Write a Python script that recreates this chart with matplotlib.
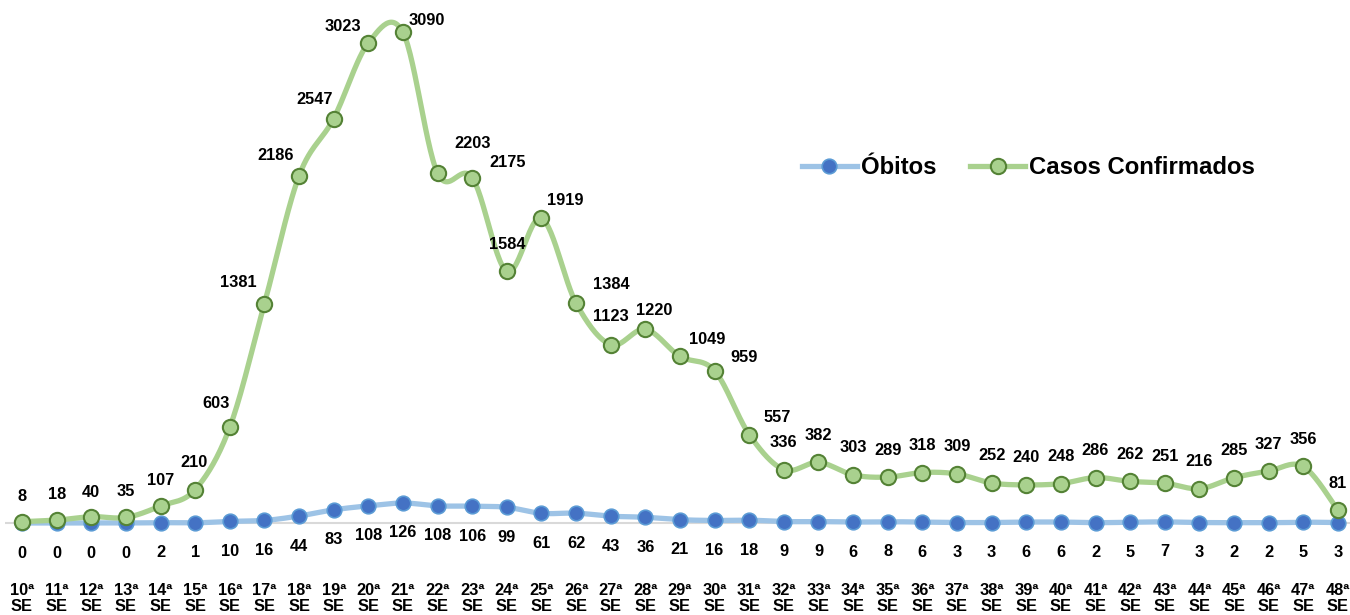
import numpy as np
import matplotlib
matplotlib.use("Agg")
import matplotlib.pyplot as plt
from matplotlib.lines import Line2D

plt.rcParams['font.family'] = ['Liberation Sans', 'DejaVu Sans']

# ---------------- data ----------------
weeks = list(range(10, 49))
week_labels = [f"{w}ª\nSE" for w in weeks]
obitos = [0, 0, 0, 0, 2, 1, 10, 16, 44, 83, 108, 126, 108, 106, 99, 61, 62, 43, 36,
          21, 16, 18, 9, 9, 6, 8, 6, 3, 3, 6, 6, 2, 5, 7, 3, 2, 2, 5, 3]
casos = [8, 18, 40, 35, 107, 210, 603, 1381, 2186, 2547, 3023, 3090, 2203, 2175, 1584,
         1919, 1384, 1123, 1220, 1049, 959, 557, 336, 382, 303, 289, 318, 309, 252,
         240, 248, 286, 262, 251, 216, 285, 327, 356, 81]

# label offsets (pixels) for the confirmed-case labels (style only)
casos_label_dx = [0, 0, 0, 0, 0, -1, -14, -26, -23, -19, -25, 24, 35, 35, 0, 24, 35,
                  0, 9, 27, 29, 28] + [0] * 17
casos_label_dy = [25, 26, 24, 26, 26, 27, 24, 21, 20, 19, 16, 12, 30, 15, 27, 18, 19,
                  28, 19, 17, 13, 17] + [27] * 17

# ---------------- helpers ----------------
def smooth(xs, ys, n=30):
    xs = np.asarray(xs, float)
    ys = np.asarray(ys, float)
    P = np.column_stack([xs, ys])
    out = []
    m = len(P)
    for i in range(m - 1):
        p0 = P[i - 1] if i > 0 else P[i]
        p1 = P[i]
        p2 = P[i + 1]
        p3 = P[i + 2] if i + 2 < m else P[i + 1]
        c1 = p1 + (p2 - p0) / 6.0
        c2 = p2 - (p3 - p1) / 6.0
        t = np.linspace(0, 1, n)[:, None]
        seg = ((1 - t) ** 3) * p1 + 3 * ((1 - t) ** 2) * t * c1 + 3 * (1 - t) * t ** 2 * c2 + t ** 3 * p2
        if i > 0:
            seg = seg[1:]
        out.append(seg)
    out = np.vstack(out)
    return out[:, 0], out[:, 1]

# ---------------- figure ----------------
W, H = 1350, 615
fig = plt.figure(figsize=(W / 100, H / 100), dpi=100)

step = 34.63
x0_px = 22 - 0.5 * step
ax_w_px = 39 * step
top_px, bot_px = 0, 540
y0_px = 523.0
scale = (523 - 32.3) / 3090.0
ax = fig.add_axes([x0_px / W, (H - bot_px) / H, ax_w_px / W, (bot_px - top_px) / H])
ax.set_xlim(-0.5, 38.5)
ax.set_ylim(-(bot_px - y0_px) / scale, (y0_px - top_px) / scale)
for s in ax.spines.values():
    s.set_visible(False)
ax.set_yticks([])

x = np.arange(len(weeks))

ax.axhline(0, color='#D9D9D9', lw=1.5, zorder=1)

blue_line = '#9DC3E6'
blue_mark = '#4472C4'
green_line = '#A9D18E'
green_edge = '#548235'

sx, sy = smooth(x, obitos)
ax.plot(sx, sy, color=blue_line, lw=3.8, solid_capstyle='round', zorder=2)
ax.plot(x, obitos, ls='none', marker='o', ms=10.5, mfc=blue_mark, mec='#5B9BD5',
        mew=1.2, zorder=3)

sx, sy = smooth(x, casos)
ax.plot(sx, sy, color=green_line, lw=3.8, solid_capstyle='round', zorder=4)
ax.plot(x, casos, ls='none', marker='o', ms=11, mfc=green_line, mec=green_edge,
        mew=1.5, zorder=5)

fs = 11.8
for i, v in enumerate(casos):
    ax.annotate(str(v), (x[i], v), xytext=(casos_label_dx[i], casos_label_dy[i]),
                textcoords='offset pixels', ha='center', va='center',
                fontsize=fs, fontweight='bold', color='#000000', zorder=6,
                annotation_clip=False)
for i, v in enumerate(obitos):
    ax.annotate(str(v), (x[i], v), xytext=(0, -30),
                textcoords='offset pixels', ha='center', va='center',
                fontsize=fs, fontweight='bold', color='#000000', zorder=6,
                annotation_clip=False)

ax.set_xticks(x)
ax.set_xticklabels(week_labels, fontsize=fs, fontweight='bold', color='#000000',
                   linespacing=1.05)
ax.tick_params(axis='x', length=0, pad=31)

handles = [
    Line2D([], [], color=blue_line, lw=3.8, marker='o', ms=10.5, mfc=blue_mark,
           mec='#5B9BD5', mew=1.2),
    Line2D([], [], color=green_line, lw=3.8, marker='o', ms=11, mfc=green_line,
           mec=green_edge, mew=1.5),
]
leg = fig.legend(handles, ['Óbitos', 'Casos Confirmados'], ncol=2, frameon=False,
                 loc='center left', bbox_to_anchor=(802 / W, 1 - 168 / H),
                 prop={'weight': 'bold', 'size': 17.2}, handlelength=2.3,
                 handletextpad=0.17, columnspacing=1.42, borderpad=0, borderaxespad=0)

fig.savefig('out.png', dpi=100)
